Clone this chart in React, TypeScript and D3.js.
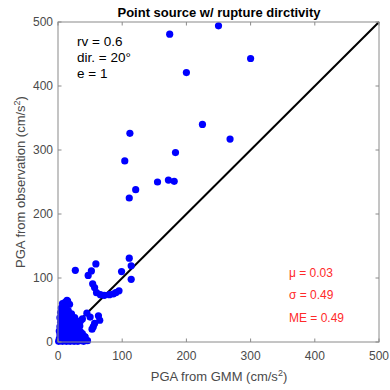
import React from "react";
import * as d3 from "d3";

const outlierGMM = [174, 250, 300, 200, 225, 268, 104, 183, 121, 111, 155, 172, 181, 112, 111, 114, 99, 114, 27, 59, 52, 47, 54, 57, 60, 66, 72, 80, 86, 90, 95, 63, 65, 55, 50, 45, 42, 57, 53];
const outlierObs = [481, 494, 443, 421, 340, 317, 283, 296, 238, 225, 250, 253, 251, 326, 131, 119, 110, 98, 112, 122, 111, 104, 91, 85, 77, 74, 73, 74, 75, 77, 80, 41, 34, 24, 39, 45, 8, 29, 20];

const clusterGMM = [
  1, 4, 7, 10, 13, 16, 19, 22, 25, 28, 31, 34, 37, 40, 43, 46,
  2, 6, 9, 12, 15, 18, 21, 24, 27, 30, 33, 36, 39, 42,
  3, 7, 11, 14, 17, 20, 23, 26, 29, 32, 35, 38,
  2, 5, 9, 12, 16, 19, 22, 25, 28, 31, 34,
  3, 6, 10, 13, 17, 20, 24, 27, 30, 35, 38,
  4, 7, 11, 14, 18, 22, 26,
  3, 6, 10, 13, 17, 21,
  4, 8, 12, 16,
  5, 9, 13, 7, 11, 15, 18, 14
];
const clusterObs = [
  1, 2, 1, 3, 1, 2, 1, 3, 1, 2, 1, 3, 2, 1, 3, 2,
  5, 6, 7, 5, 8, 6, 7, 9, 6, 8, 6, 9, 7, 8,
  11, 12, 10, 13, 11, 14, 12, 15, 12, 14, 16, 13,
  17, 19, 18, 20, 17, 21, 19, 22, 20, 23, 25,
  24, 27, 25, 28, 26, 29, 27, 31, 29, 33, 36,
  31, 34, 33, 36, 34, 37, 38,
  38, 41, 40, 43, 42, 44,
  46, 48, 50, 49,
  53, 55, 57, 60, 62, 64, 59, 65
];

const xTicks = [0, 100, 200, 300, 400, 500];
const yTicks = [0, 100, 200, 300, 400, 500];
const statLines = ["\u03bc = 0.03", "\u03c3 = 0.49", "ME = 0.49"];
const paramLines = ["rv = 0.6", "dir. = 20\u00b0", "e = 1"];

const FONT = "'Liberation Sans', Arial, Helvetica, sans-serif";

export default function App() {
  const left = 58, right = 379, top = 22, bottom = 342;
  const x = d3.scaleLinear().domain([0, 500]).range([left, right]);
  const y = d3.scaleLinear().domain([0, 500]).range([bottom, top]);

  const pts = [
    ...clusterGMM.map((g, i) => [g, clusterObs[i]]),
    ...outlierGMM.map((g, i) => [g, outlierObs[i]]),
  ];
  const line = d3.line<number[]>().x(d => x(d[0])).y(d => y(d[1]));

  const axisColor = "#8a8a8a";
  const labelColor = "#4a4a4a";

  return (
    <svg width={390} height={390} style={{ position: "absolute", left: 0, top: 0, background: "#fff" }} fontFamily={FONT}>
      <rect x={0} y={0} width={390} height={390} fill="#fff" />
      <path d={line([[0, 0], [500, 500]]) || ""} stroke="#000" strokeWidth={2} fill="none" />
      {pts.map((p, i) => (
        <circle key={i} cx={x(p[0])} cy={y(p[1])} r={3.6} fill="#0000ff" />
      ))}
      <rect x={left} y={top} width={right - left} height={bottom - top} fill="none" stroke={axisColor} strokeWidth={1} />
      {xTicks.map(t => (
        <g key={"x" + t}>
          <line x1={x(t)} x2={x(t)} y1={bottom} y2={bottom - 3.5} stroke={axisColor} />
          <line x1={x(t)} x2={x(t)} y1={top} y2={top + 3.5} stroke={axisColor} />
          <text x={x(t)} y={360} textAnchor="middle" fontSize={12} fill={labelColor}>{t}</text>
        </g>
      ))}
      {yTicks.map(t => (
        <g key={"y" + t}>
          <line x1={left} x2={left + 3.5} y1={y(t)} y2={y(t)} stroke={axisColor} />
          <line x1={right} x2={right - 3.5} y1={y(t)} y2={y(t)} stroke={axisColor} />
          <text x={53} y={y(t) + 4.3} textAnchor="end" fontSize={12} fill={labelColor}>{t}</text>
        </g>
      ))}
      <text x={219} y={17} textAnchor="middle" fontSize={13} fontWeight="bold" fill="#000">Point source w/ rupture dirctivity</text>
      <text x={219} y={381} textAnchor="middle" fontSize={13} fill={labelColor}>
        PGA from GMM (cm/s<tspan dy={-5} fontSize={9}>2</tspan><tspan dy={5}>)</tspan>
      </text>
      <text transform={`translate(25,182) rotate(-90)`} textAnchor="middle" fontSize={13} fill={labelColor}>
        PGA from observation (cm/s<tspan dy={-5} fontSize={9}>2</tspan><tspan dy={5}>)</tspan>
      </text>
      {paramLines.map((s, i) => (
        <text key={s} x={77} y={45.7 + i * 16.3} fontSize={13.5} fill="#000">{s}</text>
      ))}
      {statLines.map((s, i) => (
        <text key={s} x={289} y={276.7 + i * 22.5} fontSize={12} fill="#ff2a2a">{s}</text>
      ))}
    </svg>
  );
}
